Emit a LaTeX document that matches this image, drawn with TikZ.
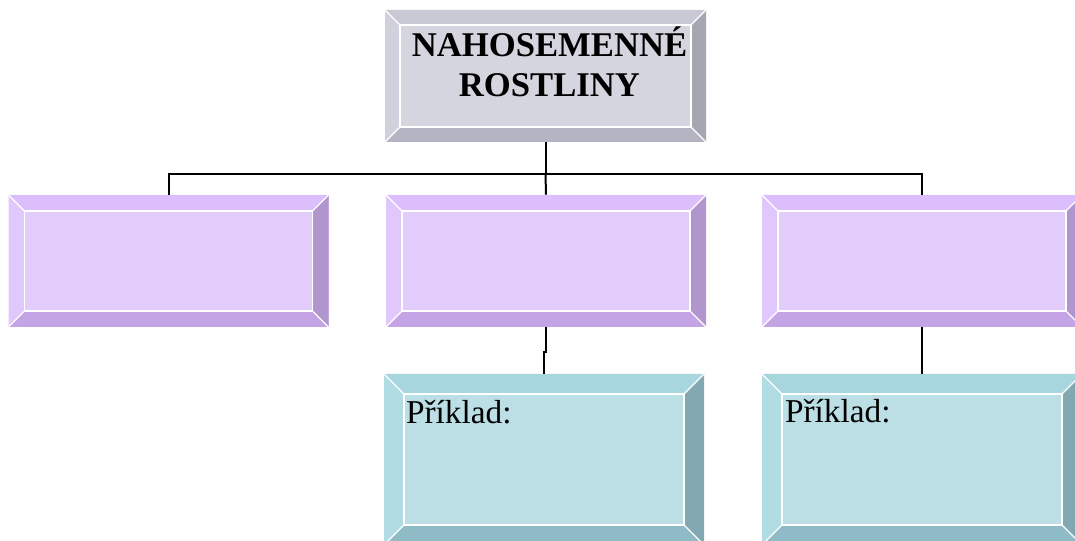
\documentclass[tikz,border=0pt]{standalone}
\usepackage{fontspec}
\setmainfont{Liberation Serif}
\usetikzlibrary{positioning}

\definecolor{grayface}{RGB}{213,213,224}
\definecolor{graytop}{RGB}{201,201,213}
\definecolor{grayleft}{RGB}{209,209,221}
\definecolor{grayright}{RGB}{166,166,179}
\definecolor{graybot}{RGB}{180,180,194}
\definecolor{violface}{RGB}{226,204,252}
\definecolor{violtop}{RGB}{220,190,252}
\definecolor{violleft}{RGB}{224,200,253}
\definecolor{violright}{RGB}{176,150,204}
\definecolor{violbot}{RGB}{196,164,228}
\definecolor{cyanface}{RGB}{187,223,229}
\definecolor{cyantop}{RGB}{168,214,222}
\definecolor{cyanleft}{RGB}{178,220,227}
\definecolor{cyanright}{RGB}{130,169,177}
\definecolor{cyanbot}{RGB}{143,187,198}

\tikzset{
  bevbox/.style n args={6}{rectangle, inner sep=0pt, fill=#1,
    path picture={
      \coordinate (nw) at (path picture bounding box.north west);
      \coordinate (ne) at (path picture bounding box.north east);
      \coordinate (sw) at (path picture bounding box.south west);
      \coordinate (se) at (path picture bounding box.south east);
      \coordinate (inw) at ([xshift=#6,yshift=-#6]nw);
      \coordinate (ine) at ([xshift=-#6,yshift=-#6]ne);
      \coordinate (isw) at ([xshift=#6,yshift=#6]sw);
      \coordinate (ise) at ([xshift=-#6,yshift=#6]se);
      \fill[#2] (nw) -- (ne) -- (ine) -- (inw) -- cycle;
      \fill[#3] (nw) -- (inw) -- (isw) -- (sw) -- cycle;
      \fill[#4] (ne) -- (ine) -- (ise) -- (se) -- cycle;
      \fill[#5] (sw) -- (isw) -- (ise) -- (se) -- cycle;
      \draw[white, line width=1pt] (inw) rectangle (ise);
      \draw[white, line width=1pt] (nw) -- (inw) (ne) -- (ine) (sw) -- (isw) (se) -- (ise);
    }},
  titlebox/.style={bevbox={grayface}{graytop}{grayleft}{grayright}{graybot}{11.25pt},
    minimum width=240.75pt, minimum height=99pt},
  kindbox/.style={bevbox={violface}{violtop}{violleft}{violright}{violbot}{12pt},
    minimum width=240pt, minimum height=99pt},
  examplebox/.style={bevbox={cyanface}{cyantop}{cyanleft}{cyanright}{cyanbot}{15pt},
    minimum width=240pt, minimum height=128.25pt},
  conn/.style={draw=black, line width=1.5pt}
}

\begin{document}
\begin{tikzpicture}[line cap=butt,line join=miter,x=0.75pt,y=-0.75pt]
\useasboundingbox (0,0) rectangle (1075,541);
\clip (0,0) rectangle (1075,541);

% boxes
\node[titlebox] (title) at (545.5,76) {};
\node[kindbox] (kv1) at (168.5,261) {};
\node[kindbox] (kv2) at (546,261) {};
\node[kindbox] (kv3) at (922,261) {};
\node[examplebox] (pr1) at (544,459.5) {};
\node[examplebox] (pr2) at (922,459.5) {};

% texts
\node[align=center, font=\bfseries\fontsize{26}{30}\selectfont, inner sep=0pt,
  anchor=base] (tname) at (549.5,97) {NAHOSEMENNÉ\\ROSTLINY};
\node[font=\fontsize{25}{29}\selectfont, inner sep=0pt, anchor=base west]
  (ex1) at ([shift={(22,50)}]pr1.north west) {Příklad:};
\node[font=\fontsize{25}{29}\selectfont, inner sep=0pt, anchor=base west]
  (ex2) at ([shift={(23,49)}]pr2.north west) {Příklad:};

% connectors
\coordinate (bus) at (545.5,174);
\draw[conn] (title.south) -- (bus);
\draw[conn] (kv1.north) |- (bus) -| (kv3.north);
\draw[conn] (bus) -- (kv2.north);
\draw[conn] (kv2.south) -- ++(0,25) -| (pr1.north);
\draw[conn] (kv3.south) -- (pr2.north);
\end{tikzpicture}
\end{document}
